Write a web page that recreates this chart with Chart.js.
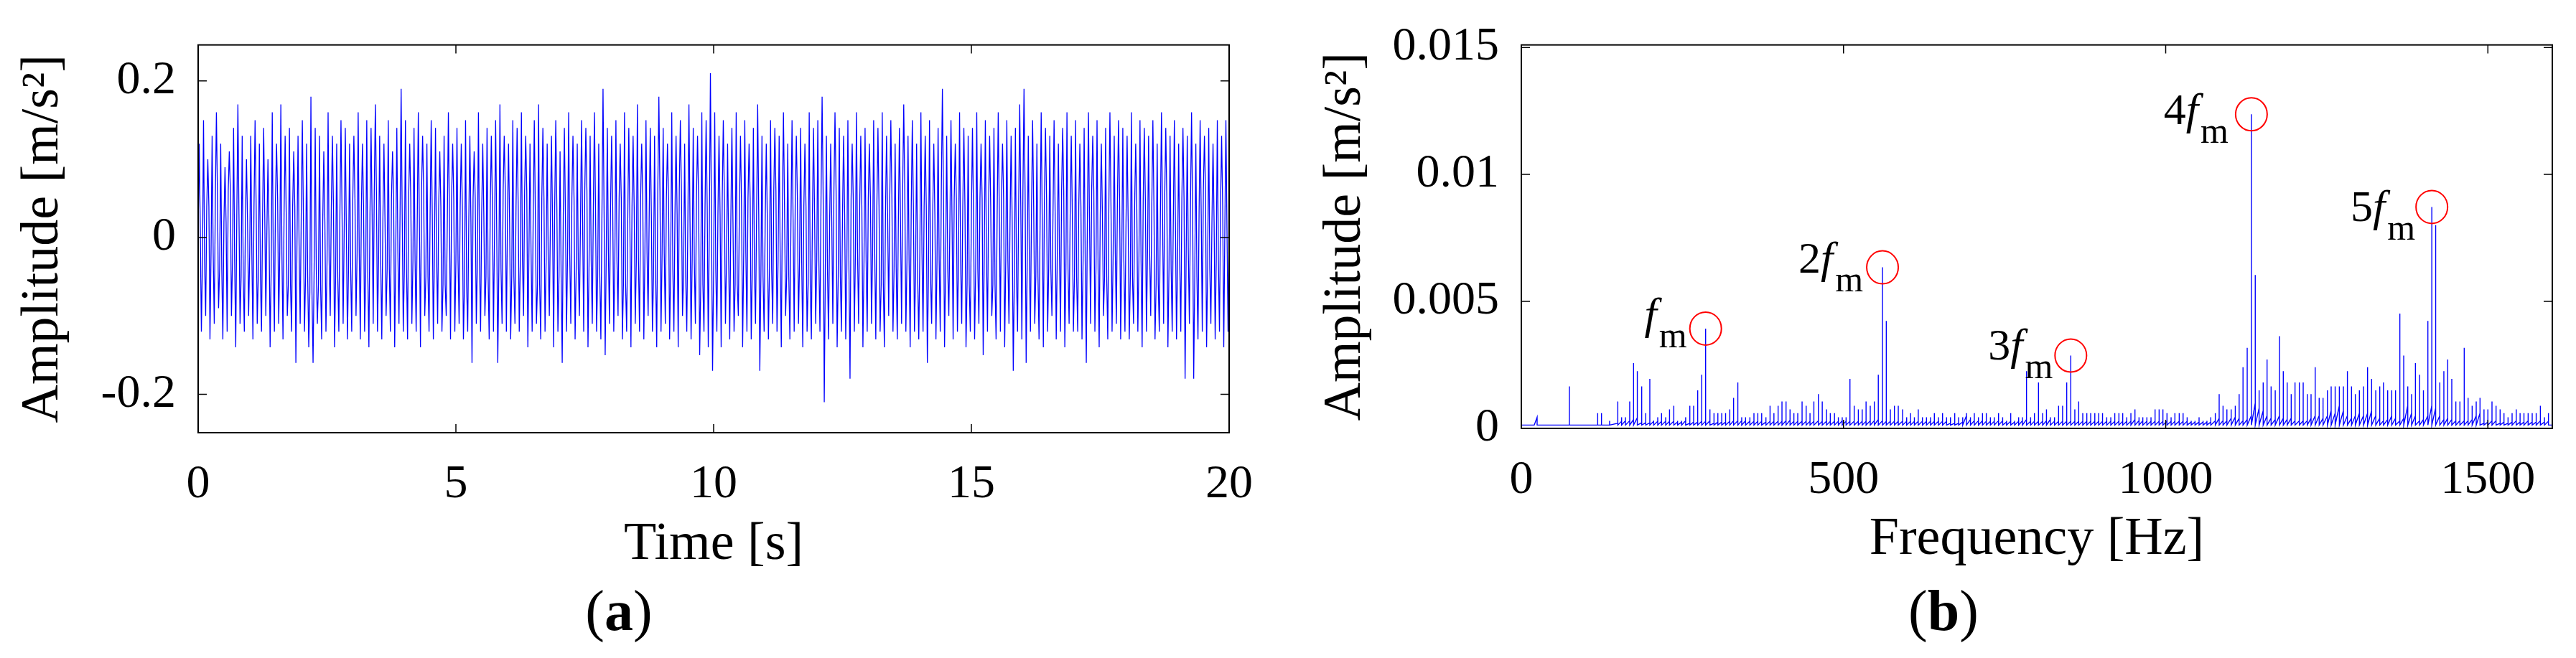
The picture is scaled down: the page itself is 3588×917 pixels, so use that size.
<!DOCTYPE html>
<html>
<head>
<meta charset="utf-8">
<title>Vibration signal and spectrum</title>
<script src="https://cdn.jsdelivr.net/npm/chart.js@4.4.1/dist/chart.umd.min.js"></script>
<style>
  html, body { margin: 0; padding: 0; background: #fff; }
  body { width: 3588px; height: 917px; position: relative; overflow: hidden; }
  canvas { position: absolute; top: 0; }
  #timeChart { left: 0; }
  #specChart { left: 1794px; }
  .panel-tag {
    position: absolute; top: 811px;
    font: 80px "Liberation Serif", "Times New Roman", serif; line-height: 80px;
    transform: translateX(-50%); white-space: nowrap; color: #000;
  }
</style>
</head>
<body>
<canvas id="timeChart" width="1794" height="917"></canvas>
<canvas id="specChart" width="1794" height="917"></canvas>
<div class="panel-tag" style="left:862px">(<b>a</b>)</div>
<div class="panel-tag" style="left:2707px">(<b>b</b>)</div>
<script>
// ---- axis ticks ----
const timeTicks = [0, 5, 10, 15, 20];
const timeAmpTicks = [-0.2, 0, 0.2];
const freqTicks = [0, 500, 1000, 1500];
const specAmpTicks = [0, 0.005, 0.01, 0.015];

// ---- (a) time signal, m/s^2 ----
// one impulse pair every 1/12 s: band level, positive impulse, negative impulse
const EVENT_STEP = 1 / 12;
const accelMid = [
  .01,-.03,.04,-.02,.05,-.04,.02,.06,-.03,.03,-.05,.02,
  -.02,.04,-.05,.03,.01,-.04,.05,-.02,.03,-.06,.04,-.01,
  .03,-.05,-.07,-.04,-.06,.02,-.03,.04,-.05,.03,.01,-.04,
  .05,-.02,.04,-.05,.03,.06,-.03,.02,-.04,.05,-.02,.03,
  -.04,.05,-.03,.02,.06,-.05,.03,-.02,.04,-.06,.02,.05,
  -.03,.04,-.06,.02,.05,-.03,.03,-.05,.04,.01,-.04,.06,
  .02,-.05,.04,-.03,.06,-.02,.03,-.06,.05,-.03,.02,.04,
  -.05,.03,-.02,.05,-.04,.02,.06,-.03,.04,-.05,.03,-.02,
  .04,-.03,.05,-.06,.02,.04,-.03,.05,-.02,.03,-.05,.06,
  -.02,.05,-.04,.03,.06,-.05,.02,-.03,.05,-.06,.04,.02,
  -.04,.03,.05,-.03,.02,-.06,.04,-.02,.05,-.04,.03,-.05,
  .02,-.04,.06,-.03,.04,-.05,.02,.05,-.03,.04,-.06,.03,
  -.03,.05,-.04,.02,.06,-.05,.03,-.04,.05,-.02,.04,-.03,
  .05,-.02,.04,-.06,.03,.05,-.04,.02,.06,-.03,.04,-.05,
  -.02,.04,-.05,.03,-.03,.06,-.04,.02,.05,-.03,.04,-.06,
  .03,-.04,.05,-.02,.04,-.06,.03,.05,-.03,.02,-.05,.04,
  .06,-.03,.04,-.05,.02,.05,-.04,.03,-.02,.06,-.04,.03,
  -.05,.04,-.03,.02,.06,-.04,.03,-.05,.04,-.02,.05,-.03,
  .02,-.05,.04,-.03,.05,-.02,.04,-.06,.03,.05,-.04,.02,
  -.03,.05,-.02,.04,-.05,.03,.06,-.04,.02,-.03,.04,.01
];
const accelTop = [
  .12,.15,.10,.13,.16,.12,.09,.11,.14,.17,.13,.10,
  .13,.15,.12,.14,.10,.16,.12,.17,.13,.14,.11,.13,
  .15,.12,.18,.14,.13,.11,.16,.13,.12,.15,.14,.12,
  .13,.16,.12,.15,.14,.17,.13,.12,.15,.11,.14,.19,
  .15,.12,.14,.16,.13,.12,.15,.14,.11,.13,.16,.12,
  .14,.12,.15,.13,.11,.16,.12,.14,.13,.15,.17,.13,
  .12,.15,.14,.16,.13,.12,.15,.17,.14,.12,.13,.15,
  .11,.14,.16,.13,.12,.15,.14,.13,.16,.12,.19,.14,
  .13,.15,.12,.16,.14,.13,.17,.12,.15,.14,.13,.18,
  .14,.12,.16,.13,.15,.12,.17,.14,.13,.16,.15,.21,
  .16,.13,.15,.12,.14,.16,.13,.15,.12,.14,.17,.13,
  .12,.15,.14,.13,.16,.12,.15,.13,.14,.12,.16,.14,
  .15,.18,.13,.12,.16,.14,.13,.15,.12,.16,.13,.14,
  .12,.15,.14,.16,.13,.15,.12,.14,.17,.13,.15,.12,
  .16,.13,.15,.12,.14,.19,.13,.15,.12,.16,.14,.13,
  .14,.16,.12,.15,.13,.14,.16,.12,.15,.13,.14,.17,
  .19,.13,.15,.12,.16,.14,.13,.15,.12,.14,.16,.13,
  .15,.12,.14,.16,.13,.15,.12,.14,.16,.13,.15,.14,
  .13,.16,.12,.15,.14,.13,.15,.12,.16,.14,.13,.15,
  .12,.14,.13,.16,.12,.15,.13,.14,.12,.15,.13,.15
];
const accelBot = [
  -.12,-.10,-.13,-.11,-.09,-.13,-.12,-.10,-.14,-.11,-.12,-.10,
  -.13,-.11,-.12,-.10,-.14,-.12,-.11,-.13,-.10,-.12,-.16,-.11,
  -.12,-.14,-.16,-.11,-.13,-.12,-.10,-.14,-.12,-.11,-.13,-.12,
  -.10,-.13,-.12,-.14,-.11,-.12,-.13,-.10,-.12,-.14,-.11,-.12,
  -.13,-.11,-.12,-.14,-.10,-.12,-.13,-.11,-.12,-.10,-.13,-.12,
  -.11,-.13,-.12,-.16,-.11,-.12,-.10,-.13,-.12,-.16,-.11,-.12,
  -.13,-.11,-.12,-.10,-.14,-.12,-.11,-.13,-.12,-.10,-.14,-.12,
  -.16,-.12,-.11,-.13,-.10,-.12,-.14,-.11,-.12,-.13,-.15,-.11,
  -.12,-.10,-.13,-.12,-.14,-.11,-.12,-.13,-.10,-.12,-.14,-.12,
  -.11,-.13,-.12,-.14,-.10,-.12,-.13,-.11,-.15,-.12,-.14,-.17,
  -.12,-.14,-.11,-.13,-.12,-.10,-.14,-.12,-.13,-.11,-.17,-.12,
  -.13,-.11,-.12,-.14,-.10,-.13,-.12,-.11,-.14,-.12,-.13,-.11,
  -.12,-.21,-.13,-.11,-.14,-.12,-.13,-.18,-.12,-.11,-.14,-.12,
  -.11,-.13,-.12,-.14,-.10,-.12,-.13,-.11,-.12,-.14,-.12,-.13,
  -.12,-.16,-.11,-.13,-.12,-.14,-.10,-.13,-.12,-.11,-.14,-.12,
  -.13,-.11,-.15,-.12,-.10,-.13,-.12,-.14,-.11,-.17,-.12,-.13,
  -.16,-.12,-.11,-.13,-.14,-.12,-.10,-.13,-.12,-.14,-.11,-.12,
  -.12,-.13,-.16,-.11,-.12,-.14,-.10,-.13,-.12,-.11,-.13,-.12,
  -.13,-.11,-.12,-.14,-.12,-.10,-.13,-.12,-.11,-.14,-.12,-.13,
  -.12,-.18,-.11,-.18,-.13,-.12,-.14,-.11,-.13,-.12,-.14,-.12
];

// ---- (b) amplitude spectrum; amplitudes in 1e-3 m/s^2 ----
const specFreq = [
  20, 24.5, 74.6, 118.5, 124.4, 137, 149.7, 155.6, 161.6, 168.2,
  174.2, 180, 186.8, 193.1, 199.4, 205.4, 211.7, 217.6, 224, 230,
  236.6, 242.5, 248.8, 255, 261.5, 267.4, 273.7, 280, 286, 292.7,
  299, 305, 311, 317, 323.5, 329.4, 336, 342, 348, 354.7,
  361, 367, 373, 379.6, 386, 392, 398.5, 404.5, 410.8, 417,
  423, 429, 435.7, 442, 448, 454, 461, 467, 473.6, 479.5,
  486, 492, 498, 504, 510, 516.6, 523, 529, 535, 541.5,
  547.8, 554, 560.5, 566.4, 572.7, 579, 585, 591.7, 598, 604,
  610, 616, 622.5, 628.8, 635, 641, 647.4, 653.7, 660, 666,
  672.6, 678.6, 685, 690.8, 697, 703, 709.4, 715.7, 721.6, 728,
  734, 740.6, 747, 753, 759.5, 765.5, 771.8, 777.7, 784, 790.4,
  796.3, 802.6, 809, 815, 821, 827.5, 833.8, 840, 846.4, 852.7,
  859, 865, 871.3, 877.6, 883.6, 890, 896, 902, 908.5, 914.8,
  921, 927.4, 933.3, 939.6, 946, 952.3, 958.6, 964.5, 970.8, 977.2,
  983.5, 989.8, 995.7, 1002, 1008.4, 1014.3, 1021, 1027, 1033.3, 1039.6,
  1045.5, 1051.8, 1058, 1064, 1070, 1077, 1083, 1089, 1095, 1101.6,
  1108, 1114, 1120, 1126.5, 1133, 1139, 1145, 1151.3, 1157.3, 1163.6,
  1170, 1176.6, 1182.5, 1188.5, 1194.8, 1200.7, 1207.4, 1213.4, 1219.7, 1225.6,
  1232, 1238.2, 1244.2, 1251, 1256.8, 1263, 1269.5, 1275.8, 1282, 1288.4,
  1294.3, 1300.6, 1307, 1313.3, 1319.6, 1326, 1332.2, 1338, 1344.5, 1350.8,
  1356.7, 1363.4, 1369.4, 1375.7, 1381.6, 1387.6, 1394, 1400, 1406.9, 1413,
  1419, 1425.4, 1431.7, 1437.7, 1444, 1450.3, 1456.6, 1463.3, 1469.3, 1475.6,
  1481.9, 1487.8, 1494, 1500, 1506.4, 1512.7, 1519, 1525, 1531.3, 1537.6,
  1544, 1550, 1556, 1562.5, 1568.8, 1575, 1581.5, 1587.8, 1594
];
const specPeak = [
  .13, .44, 1.65, .60, .60, .30, 1.06, .44, .44, 1.06,
  2.57, 2.25, 1.65, .60, 1.95, .30, .44, .60, .44, .75,
  .89, .30, .30, .44, .89, .89, 1.50, 2.11, 3.93, .75,
  .60, .60, .60, .60, .75, 1.20, 1.81, .44, .44, .44,
  .60, .60, .60, .44, .89, .60, .89, 1.06, 1.06, .75,
  .60, .60, 1.06, .89, .60, 1.06, 1.35, 1.06, .75, .60,
  .60, .44, .44, .44, 1.95, .89, .75, .75, 1.06, .89,
  1.06, 2.11, 6.34, 4.23, .75, .89, .89, .75, .44, .60,
  .44, .75, .44, .44, .44, .60, .44, .60, .44, .44,
  .60, .44, .44, .60, .44, .60, .44, .60, .60, .44,
  .44, .60, .44, .30, .60, .30, .44, .44, 2.25, .44,
  .60, 1.81, .60, .75, .44, .44, .89, .89, 1.81, 2.87,
  .75, 1.06, .60, .60, .60, .60, .60, .60, .44, .44,
  .60, .60, .60, .44, .60, .75, .44, .44, .44, .44,
  .75, .75, .75, .60, .44, .60, .60, .60, .44, .30,
  .30, .44, .30, .30, .44, .60, 1.35, .89, .75, .75,
  .89, 1.35, 2.41, 3.17, 12.37, 6.04, 1.50, 1.81, 2.71, 1.65,
  1.50, 3.63, 2.25, 1.81, 1.35, 1.81, 1.81, 1.81, 1.35, 1.35,
  2.41, 1.20, 1.20, 1.50, 1.65, 1.65, 1.65, 1.65, 2.25, 1.65,
  1.35, 1.50, 1.65, 2.41, 1.95, 1.50, 1.65, 1.81, 1.50, 1.50,
  1.50, 4.52, 2.87, 1.65, 1.35, 2.57, 2.11, 1.50, 4.23, 8.72,
  8.00, 1.81, 2.25, 2.71, 1.95, 1.06, 1.06, 3.17, 1.20, .89,
  1.06, 1.20, .75, .75, 1.06, .89, .75, .60, .44, .60,
  .75, .60, .60, .60, .60, .60, .89, .44, .60
];
const specBase = [
  .13, .44, .13, .13, .13, .13, .20, .28, .30, .30,
  .35, .42, .22, .22, .22, .28, .28, .28, .28, .28,
  .28, .25, .25, .30, .20, .25, .25, .28, .28, .30,
  .20, .25, .25, .25, .28, .30, .30, .30, .30, .28,
  .28, .28, .28, .25, .28, .28, .28, .28, .30, .32,
  .28, .28, .28, .28, .28, .28, .30, .28, .28, .28,
  .28, .28, .30, .28, .28, .28, .28, .28, .28, .30,
  .30, .35, .30, .28, .28, .28, .28, .28, .28, .28,
  .28, .28, .28, .28, .28, .28, .28, .28, .28, .20,
  .20, .20, .25, .50, .35, .30, .30, .30, .28, .28,
  .28, .30, .30, .25, .28, .25, .28, .30, .35, .28,
  .28, .28, .28, .30, .35, .28, .28, .28, .28, .28,
  .28, .28, .28, .28, .28, .28, .28, .28, .28, .28,
  .28, .28, .28, .28, .28, .35, .30, .30, .28, .28,
  .28, .28, .28, .28, .28, .28, .28, .28, .28, .25,
  .25, .25, .25, .25, .25, .30, .40, .30, .30, .40,
  .45, .40, .30, .35, .50, 1.00, .80, .70, .50, .40,
  .35, .50, .40, .35, .40, .30, .30, .30, .30, .40,
  .50, .50, .40, .50, .70, .60, .90, .70, .50, .40,
  .50, .60, .50, .60, .70, .50, .40, .30, .35, .50,
  .40, .30, .40, .90, .60, .50, .30, .35, .50, .90,
  .80, .50, .35, .40, .35, .30, .30, .30, .30, .35,
  .50, .60, .20, .25, .30, .30, .20, .25, .20, .25,
  .30, .25, .25, .30, .25, .25, .30, .25, .28
];
const SPEC_FLOOR = 0.13;

// marked harmonics of the mesh frequency
const harmonicFreq = [286, 560.5, 852.7, 1133, 1413];
const harmonicAmp = [3.93, 6.34, 2.87, 12.37, 8.72];
const harmonicOrder = ['', '2', '3', '4', '5'];

// ---- build point tables ----
// band level -> positive impulse -> back to band -> negative impulse
const timePoints = [];
accelMid.forEach(function (mid, i) {
  const t = i * EVENT_STEP;
  timePoints.push({ x: t, y: mid });
  timePoints.push({ x: t + EVENT_STEP / 4, y: accelTop[i] });
  timePoints.push({ x: t + EVENT_STEP / 2, y: mid });
  timePoints.push({ x: t + 3 * EVENT_STEP / 4, y: accelBot[i] });
});
timePoints.push({ x: 20, y: 0.01 });

const specPoints = [{ x: 0, y: SPEC_FLOOR / 1000 }];
specFreq.forEach(function (f, i) {
  specPoints.push({ x: f, y: specBase[i] / 1000 });
  specPoints.push({ x: f, y: specPeak[i] / 1000 });
  specPoints.push({ x: f, y: SPEC_FLOOR / 1000 });
});
specPoints.push({ x: 1600, y: SPEC_FLOOR / 1000 });

// ---- shared look ----
Chart.defaults.font.family = '"Liberation Serif", "Times New Roman", serif';
Chart.defaults.color = '#000';
const TICK_FONT = { size: 66 };
const TITLE_FONT = { size: 74 };

const fixedTicks = function (values) {
  return function (scale) {
    scale.ticks = values.map(function (v) { return { value: v }; });
  };
};

// box around the plot with inward ticks on all four sides
const matlabBox = {
  id: 'matlabBox',
  afterDraw(chart) {
    const { ctx, chartArea: a, scales } = chart;
    const len = 12;
    ctx.save();
    ctx.strokeStyle = '#000';
    ctx.lineWidth = 1.5;
    ctx.beginPath();
    scales.x.ticks.forEach(function (t) {
      const px = scales.x.getPixelForValue(t.value);
      ctx.moveTo(px, a.bottom); ctx.lineTo(px, a.bottom - len);
      ctx.moveTo(px, a.top); ctx.lineTo(px, a.top + len);
    });
    scales.y.ticks.forEach(function (t) {
      const py = scales.y.getPixelForValue(t.value);
      ctx.moveTo(a.left, py); ctx.lineTo(a.left + len, py);
      ctx.moveTo(a.right, py); ctx.lineTo(a.right - len, py);
    });
    ctx.stroke();
    ctx.lineWidth = 2;
    ctx.strokeRect(a.left, a.top, a.right - a.left, a.bottom - a.top);
    ctx.restore();
  }
};

// red circles and n·f_m labels
const harmonicMarks = {
  id: 'harmonicMarks',
  afterDatasetsDraw(chart, args, opts) {
    const { ctx, scales: { x, y } } = chart;
    ctx.save();
    harmonicFreq.forEach(function (f, i) {
      const cx = x.getPixelForValue(f);
      const cy = y.getPixelForValue(harmonicAmp[i] / 1000);
      ctx.strokeStyle = '#ff0000';
      ctx.lineWidth = 2;
      ctx.beginPath();
      ctx.ellipse(cx, cy, opts.radius, opts.radius + 1, 0, 0, Math.PI * 2);
      ctx.stroke();

      ctx.fillStyle = '#000';
      ctx.textBaseline = 'alphabetic';
      ctx.textAlign = 'left';
      ctx.font = opts.mainFont;
      const wd = ctx.measureText(harmonicOrder[i]).width;
      ctx.font = opts.italicFont;
      const wf = ctx.measureText('f').width;
      ctx.font = opts.subFont;
      const wm = ctx.measureText('m').width;
      let x0 = cx + opts.dx[i] - (wd + wf + opts.gap + wm);
      const base = cy + opts.dy[i];
      ctx.font = opts.mainFont;
      ctx.fillText(harmonicOrder[i], x0, base);
      x0 += wd;
      ctx.font = opts.italicFont;
      ctx.fillText('f', x0, base);
      x0 += wf + opts.gap;
      ctx.font = opts.subFont;
      ctx.fillText('m', x0, base + opts.subDrop);
    });
    ctx.restore();
  }
};

const baseOptions = function (cfg) {
  return {
    responsive: false,
    animation: false,
    events: [],
    layout: { padding: cfg.padding },
    plugins: {
      legend: { display: false },
      tooltip: { enabled: false },
      harmonicMarks: cfg.marks || false
    },
    scales: {
      x: {
        type: 'linear', min: cfg.xMin, max: cfg.xMax,
        grid: { display: false }, border: { display: false },
        afterBuildTicks: fixedTicks(cfg.xTicks),
        afterFit(scale) { scale.height = cfg.xHeight; },
        ticks: { font: TICK_FONT, padding: 25, maxRotation: 0, autoSkip: false,
                 callback: function (v) { return String(v); } },
        title: { display: true, text: cfg.xTitle, font: TITLE_FONT,
                 padding: { top: 0, bottom: cfg.xTitlePad } }
      },
      y: {
        type: 'linear', min: cfg.yMin, max: cfg.yMax,
        grid: { display: false }, border: { display: false },
        afterBuildTicks: fixedTicks(cfg.yTicks),
        afterFit(scale) { scale.width = cfg.yWidth; },
        ticks: { font: TICK_FONT, padding: 23, autoSkip: false,
                 callback: function (v) { return String(v); } },
        title: { display: true, text: 'Amplitude [m/s²]', font: TITLE_FONT,
                 padding: { top: cfg.yTitlePad, bottom: 0 } }
      }
    }
  };
};

new Chart(document.getElementById('timeChart'), {
  type: 'line',
  data: { datasets: [{ data: timePoints, borderColor: '#0000ff', borderWidth: 1.3,
                       pointRadius: 0, tension: 0, fill: false }] },
  options: baseOptions({
    padding: { top: 50, right: 82, bottom: 0, left: 0 },
    xMin: 0, xMax: 20, xTicks: timeTicks, xHeight: 314, xTitle: 'Time [s]', xTitlePad: 113,
    yMin: -0.249, yMax: 0.246, yTicks: timeAmpTicks, yWidth: 276, yTitlePad: 16
  }),
  plugins: [matlabBox]
});

new Chart(document.getElementById('specChart'), {
  type: 'line',
  data: { datasets: [{ data: specPoints, borderColor: '#0000ff', borderWidth: 1.4,
                       pointRadius: 0, tension: 0, fill: false }] },
  options: baseOptions({
    padding: { top: 39, right: 33, bottom: 0, left: 0 },
    xMin: 0, xMax: 1600, xTicks: freqTicks, xHeight: 320, xTitle: 'Frequency [Hz]', xTitlePad: 120,
    yMin: 0, yMax: 0.0151, yTicks: specAmpTicks, yWidth: 325, yTitlePad: 36,
    marks: {
      radius: 22,
      mainFont: '62px "Liberation Serif", serif',
      italicFont: 'italic 62px "Liberation Serif", serif',
      subFont: '50px "Liberation Serif", serif',
      gap: 3,
      subDrop: 26,
      dx: [-26, -27, -25, -32, -23],
      dy: [0, 7, 6, 14, 20]
    }
  }),
  plugins: [matlabBox, harmonicMarks]
});
</script>
</body>
</html>
